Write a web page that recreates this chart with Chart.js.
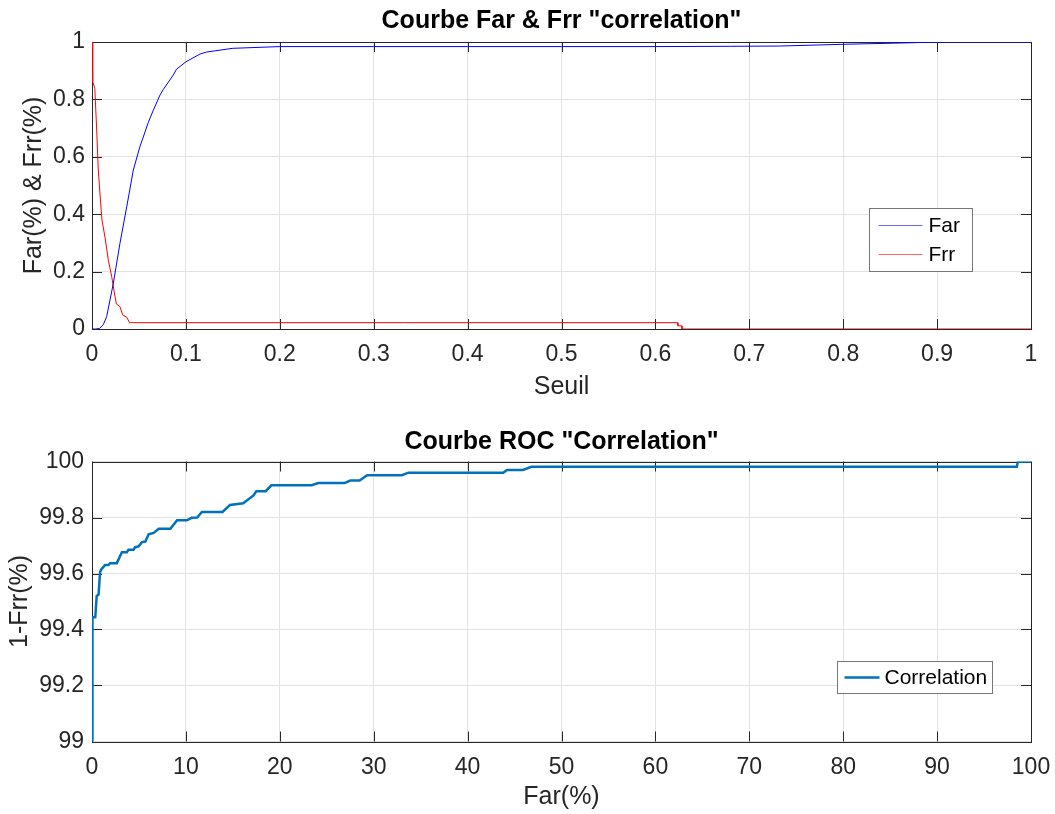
<!DOCTYPE html>
<html>
<head>
<meta charset="utf-8">
<script src="https://cdn.jsdelivr.net/npm/chart.js@4/dist/chart.umd.min.js"></script>
<style>
  body { margin: 0; background: #fff; }
  .plot { position: absolute; left: 0; }
</style>
</head>
<body>
<div class="plot" style="top:0"><canvas id="farFrr" width="1055" height="410"></canvas></div>
<div class="plot" style="top:410px"><canvas id="roc" width="1055" height="404"></canvas></div>
<script>
// courbe Far en fonction du seuil
const farSeuil = [0, 0.004, 0.008, 0.012, 0.0156, 0.0227, 0.0298, 0.037, 0.044, 0.051, 0.06, 0.065, 0.0724, 0.076, 0.0866, 0.09, 0.1, 0.115, 0.122, 0.15, 0.2, 0.3, 0.4, 0.5, 0.6, 0.68, 0.733, 0.8, 0.868, 0.9, 1]
const farValues = [0, 0, 0.002, 0.015, 0.043, 0.159, 0.299, 0.426, 0.554, 0.635, 0.72, 0.76, 0.815, 0.835, 0.885, 0.905, 0.931, 0.958, 0.965, 0.978, 0.984, 0.984, 0.984, 0.984, 0.984, 0.985, 0.986, 0.992, 0.997, 1, 1]

// courbe Frr en fonction du seuil
const frrSeuil = [0, 0.0005, 0.001, 0.003, 0.005, 0.0067, 0.0092, 0.0106, 0.0138, 0.0174, 0.021, 0.0245, 0.026, 0.0298, 0.0327, 0.037, 0.04, 0.6237, 0.624, 0.628, 0.6283, 1]
const frrValues = [1, 1, 0.862, 0.839, 0.693, 0.554, 0.44, 0.38, 0.32, 0.24, 0.182, 0.113, 0.087, 0.078, 0.049, 0.041, 0.022, 0.022, 0.011, 0.011, 0, 0]

// courbe ROC : Far(%) et 1-Frr(%)
const rocFar = [0, 0, 0.1, 0.35, 0.5, 0.7, 0.86, 1.0, 1.39, 1.75, 1.93, 2.64, 3.18, 3.71, 3.89, 4.43, 4.6, 4.96, 5.32, 5.68, 6.03, 6.57, 7.1, 8.35, 9.06, 10.1, 10.6, 11.2, 11.7, 13.9, 14.7, 16.1, 17.2, 17.5, 18.5, 19.1, 23.4, 24.1, 26.9, 27.5, 28.5, 29.3, 33.0, 33.7, 43.8, 44.2, 45.9, 46.8, 98.5, 98.6, 100]
const rocTar = [99, 99.36, 99.444, 99.444, 99.52, 99.525, 99.605, 99.615, 99.63, 99.63, 99.637, 99.637, 99.676, 99.676, 99.685, 99.685, 99.694, 99.697, 99.712, 99.714, 99.74, 99.745, 99.76, 99.76, 99.79, 99.79, 99.799, 99.8, 99.82, 99.82, 99.845, 99.851, 99.879, 99.894, 99.894, 99.915, 99.915, 99.923, 99.923, 99.932, 99.932, 99.951, 99.951, 99.96, 99.96, 99.97, 99.97, 99.981, 99.981, 100, 100]

const FONT = '"Liberation Sans", Arial, Helvetica, sans-serif'
const AXIS = "#262626"
const GRID = "#e2e2e2"

Chart.defaults.font.family = FONT
Chart.defaults.color = AXIS


// paires x / y pour chart.js
function points(xs, ys) {
  return xs.map(function (x, i) {
    return { x: x, y: ys[i] }
  })
}


// libellé sans zéros inutiles
function tickLabel(value) {
  return String(+value.toFixed(2))
}


// cadre et graduations vers l'intérieur
const axesBox = {
  id: "axesBox",
  beforeDatasetsDraw(chart) {
    const ctx = chart.ctx
    const a = chart.chartArea
    const sx = chart.scales.x
    const sy = chart.scales.y
    const len = 10

    ctx.save()
    ctx.strokeStyle = AXIS
    ctx.lineWidth = 1
    ctx.beginPath()

    sx.ticks.forEach(function (t) {
      const px = Math.round(sx.getPixelForValue(t.value)) + 0.5
      ctx.moveTo(px, a.bottom)
      ctx.lineTo(px, a.bottom - len)
      ctx.moveTo(px, a.top)
      ctx.lineTo(px, a.top + len)
    })

    sy.ticks.forEach(function (t) {
      const py = Math.round(sy.getPixelForValue(t.value)) + 0.5
      ctx.moveTo(a.left, py)
      ctx.lineTo(a.left + len, py)
      ctx.moveTo(a.right, py)
      ctx.lineTo(a.right - len, py)
    })

    ctx.stroke()
    ctx.strokeRect(Math.round(a.left) + 0.5, Math.round(a.top) + 0.5, Math.round(a.width), Math.round(a.height))
    ctx.restore()
  },
}


// légende dans la zone du graphique
const boxLegend = {
  id: "boxLegend",
  afterDatasetsDraw(chart, args, opts) {
    const ctx = chart.ctx
    const a = chart.chartArea
    const left = Math.round(a.right - opts.right - opts.width) + 0.5
    const top = Math.round(a.top + opts.top) + 0.5
    const height = opts.rowHeight * chart.data.datasets.length + opts.pad * 2

    ctx.save()
    ctx.fillStyle = "#fff"
    ctx.fillRect(left, top, opts.width, height)
    ctx.strokeStyle = "#777"
    ctx.lineWidth = 1
    ctx.strokeRect(left, top, opts.width, height)

    ctx.font = "21px " + FONT
    ctx.textBaseline = "middle"

    chart.data.datasets.forEach(function (ds, i) {
      const y = top + opts.pad + opts.rowHeight * (i + 0.5)

      ctx.strokeStyle = opts.lineColors ? opts.lineColors[i] : ds.borderColor
      ctx.lineWidth = ds.borderWidth
      ctx.beginPath()
      ctx.moveTo(left + opts.lineFrom, y)
      ctx.lineTo(left + opts.lineTo, y)
      ctx.stroke()

      ctx.fillStyle = "#000"
      ctx.fillText(ds.label, left + opts.textAt, y + 1)
    })

    ctx.restore()
  },
}


// options d'un axe façon matlab
function axis(opts) {
  return {
    type: "linear",
    min: opts.min,
    max: opts.max,
    ticks: {
      stepSize: opts.step,
      font: { size: 23 },
      padding: opts.tickPad,
      color: AXIS,
      autoSkip: false,
      maxRotation: 0,
      callback: tickLabel,
    },
    grid: { color: GRID, drawTicks: false },
    border: { display: false },
    title: {
      display: true,
      text: opts.title,
      font: { size: 25 },
      color: AXIS,
      padding: opts.titlePad,
    },
    afterFit: opts.fit,
  }
}


// titre au-dessus des axes
function title(text, padTop, padBottom) {
  return {
    display: true,
    text: text,
    fullSize: false,
    color: "#000",
    font: { size: 25, weight: "bold" },
    padding: { top: padTop, bottom: padBottom },
  }
}


// hauteur fixe de l'axe x, sans marge pour les libellés extrêmes
function fixHeight(h) {
  return function (s) {
    s.height = h
    s.paddingLeft = 0
    s.paddingRight = 0
  }
}


// largeur fixe de l'axe y
function fixWidth(w) {
  return function (s) {
    s.width = w
    s.paddingTop = 0
    s.paddingBottom = 0
  }
}


// graphique Far & Frr
new Chart(document.getElementById("farFrr"), {
  type: "line",
  data: {
    datasets: [
      {
        label: "Far",
        data: points(farSeuil, farValues),
        borderColor: "#0000ff",
        borderWidth: 1,
        pointRadius: 0,
        tension: 0,
      },
      {
        label: "Frr",
        data: points(frrSeuil, frrValues),
        borderColor: "#ff0000",
        borderWidth: 1,
        pointRadius: 0,
        tension: 0,
      },
    ],
  },
  options: {
    responsive: false,
    animation: false,
    layout: { padding: { left: 0, right: 24, top: 0, bottom: 0 } },
    scales: {
      x: axis({
        min: 0, max: 1, step: 0.1, tickPad: 12, title: "Seuil",
        titlePad: { top: 0, bottom: 8 },
        fit: fixHeight(81),
      }),
      y: axis({
        min: 0, max: 1, step: 0.2, tickPad: 7, title: "Far(%) & Frr(%)",
        titlePad: { top: 19, bottom: 0 },
        fit: fixWidth(92),
      }),
    },
    plugins: {
      legend: { display: false },
      tooltip: { enabled: false },
      title: title('Courbe Far & Frr "correlation"', 6, 6),
      boxLegend: {
        right: 59, top: 166, width: 103, rowHeight: 29, pad: 2.5,
        lineFrom: 9, lineTo: 53, textAt: 59,
        lineColors: ["#6868ff", "#ff6868"],
      },
    },
  },
  plugins: [axesBox, boxLegend],
})


// graphique ROC
new Chart(document.getElementById("roc"), {
  type: "line",
  data: {
    datasets: [
      {
        label: "Correlation",
        data: points(rocFar, rocTar),
        borderColor: "#0072bd",
        borderWidth: 2.5,
        pointRadius: 0,
        tension: 0,
      },
    ],
  },
  options: {
    responsive: false,
    animation: false,
    layout: { padding: { left: 0, right: 24, top: 0, bottom: 0 } },
    scales: {
      x: axis({
        min: 0, max: 100, step: 10, tickPad: 12, title: "Far(%)",
        titlePad: { top: 0, bottom: 2 },
        fit: fixHeight(72.5),
      }),
      y: axis({
        min: 99, max: 100, step: 0.2, tickPad: 8, title: "1-Frr(%)",
        titlePad: { top: 5.5, bottom: 0 },
        fit: fixWidth(92),
      }),
    },
    plugins: {
      legend: { display: false },
      tooltip: { enabled: false },
      title: title('Courbe ROC "Correlation"', 17.5, 4),
      boxLegend: { right: 39, top: 199.5, width: 155, rowHeight: 32, pad: 0, lineFrom: 7, lineTo: 42, textAt: 47 },
    },
  },
  plugins: [axesBox, boxLegend],
})
</script>
</body>
</html>
